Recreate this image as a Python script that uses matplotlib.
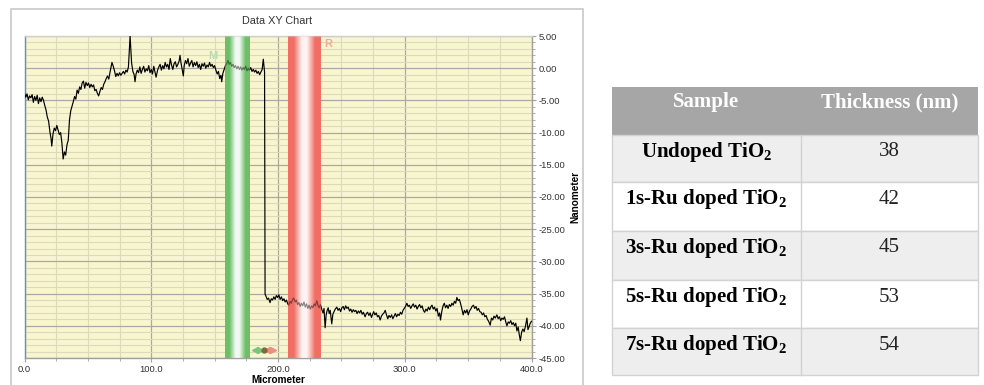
import numpy as np
import matplotlib.pyplot as plt
from matplotlib.patches import Rectangle
from matplotlib.ticker import MultipleLocator, FormatStrFormatter

plt.rcParams['font.family'] = ['Liberation Sans', 'DejaVu Sans']
plt.rcParams['axes.unicode_minus'] = False
plt.rcParams['mathtext.fontset'] = 'custom'
plt.rcParams['mathtext.rm'] = 'Liberation Serif'
plt.rcParams['mathtext.bf'] = 'Liberation Serif:bold'

# profilometer trace (micrometer, nanometer)
profile = [
    (0, -3.9), (1, -4.5), (2, -4.0), (3, -4.9), (4, -4.3), (5, -4.6), (6, -4.1), (7, -5.3), (8, -4.4), (9, -5.0),
    (10, -4.2), (11, -5.5), (12, -4.6), (13, -5.2), (14, -4.5), (15, -5.0), (16, -5.8), (17, -6.5), (18, -7.6), (19, -8.2),
    (20, -9.8), (21, -11.0), (21.5, -12.1), (22.5, -10.2), (23.5, -9.3), (24.5, -9.7), (25.5, -8.9), (26.5, -9.6), (27.5, -10.3), (28.5, -10.0),
    (29.5, -11.6), (30.5, -14.1), (31.5, -13.0), (32.5, -13.5), (33.5, -11.9), (34.5, -11.2), (35.5, -8.0), (36.5, -6.6), (37.5, -5.9), (38.5, -5.2),
    (39.5, -4.4), (40.5, -4.8), (41.5, -3.4), (42.5, -3.9), (43.5, -2.9), (44.5, -3.3), (45.5, -2.3), (46.5, -2.0), (47.5, -3.1), (48.5, -2.2),
    (49.5, -2.7), (50.5, -2.3), (51.5, -3.0), (52.5, -2.5), (53.5, -2.9), (54.5, -2.6), (55.5, -3.5), (56.5, -3.3), (57.5, -3.9), (58.5, -4.3),
    (59.5, -3.6), (60.5, -3.0), (61.5, -3.3), (62.5, -2.5), (63.5, -2.1), (64.5, -1.6), (65.5, -1.2), (66.5, -1.7), (67.5, -0.6), (68.5, 0.4),
    (69, 0.9), (70, 0.3), (71, -0.4), (72, -1.3), (73, -0.8), (74, -1.2), (75, -0.7), (76, -1.1), (77, -0.8), (78, -0.5),
    (79, -0.9), (80, -0.3), (81, -0.6), (82, 0.2), (83.3, 5.0), (84.5, 0.8), (85.5, -0.5), (86.5, -1.0), (87.2, -2.1), (88, -0.9),
    (89, -0.3), (90, -0.7), (91, 0.2), (92, -0.8), (93, -0.2), (94, 0.3), (95, -0.6), (96, -0.1), (97, -0.4), (98, 0.4),
    (99, -0.7), (100, -0.2), (101, -0.9), (102, 0.3), (103, -0.6), (103.8, -1.4), (105, -0.3), (106, 0.2), (107, 0.6), (108, -0.3),
    (109, 0.4), (110, -0.1), (111, 0.9), (112, 0.2), (113, 0.6), (114, -0.2), (115, 1.5), (116, 0.5), (117, -0.2), (118, 0.7),
    (119, 1.0), (120, 0.2), (121, 0.6), (122, 1.1), (122.7, 2.0), (123.5, 0.8), (124.5, -0.3), (125.3, -1.2), (126, 0.4), (127, 1.2),
    (128, 0.7), (129, 1.5), (130, 0.3), (131, 0.8), (132, 1.2), (133, 0.2), (134, 0.9), (135, 0.4), (136, 1.0), (137, 0.1),
    (138, 0.6), (139, -0.2), (140, 0.7), (141, 0.3), (142, 0.8), (143, 0.0), (144, 0.5), (145, 0.2), (146, 0.9), (147, 0.3),
    (148, 0.6), (149, 0.1), (150, 0.4), (151, -0.3), (152, -0.9), (153, -0.5), (154, -1.6), (155, -1.1), (155.6, -2.1), (156.5, -0.8),
    (157.5, -0.2), (158.5, 0.4), (159.5, 0.7), (160.5, 1.2), (161.5, 0.6), (162.5, 0.9), (163.5, 0.3), (164.5, 0.6), (165.5, 0.1), (166.5, 0.4),
    (167.5, -0.1), (168.5, 0.3), (169.5, -0.2), (170.5, 0.2), (171.5, -0.3), (172.5, 0.1), (173.5, -0.2), (174.5, 0.3), (175.5, -0.4), (176.5, 0.0),
    (177.5, -0.3), (178.5, 0.1), (179.5, -0.5), (180.5, -0.2), (181.5, -0.6), (182.5, -0.3), (183.5, -0.8), (184.5, -0.5), (185.5, -1.0), (186.5, -0.6),
    (187.5, -0.2), (188.4, 1.4), (189.4, -0.6), (189.8, -35.1), (190.5, -35.4), (191.5, -35.9), (192.5, -35.7), (193.7, -36.4), (194.7, -35.8), (195.7, -36.0),
    (196.7, -35.5), (197.7, -35.9), (198.7, -35.3), (199.7, -35.6), (200.7, -35.2), (201.7, -35.9), (202.7, -35.5), (203.7, -36.1), (204.7, -35.8), (205.7, -36.3),
    (206.7, -36.0), (207.7, -36.6), (208.5, -36.8), (209.5, -36.2), (210.5, -36.5), (211.5, -35.9), (212.5, -35.7), (213.5, -36.3), (214.5, -36.0), (215.5, -36.7),
    (216.5, -36.4), (217.5, -37.0), (218.5, -36.5), (219.5, -36.9), (220.5, -36.3), (221.5, -37.1), (222.5, -36.6), (223.5, -37.3), (224.5, -36.8), (225.5, -37.4),
    (226.5, -36.9), (227.5, -37.2), (228.5, -36.6), (229.5, -36.9), (230.6, -36.1), (231.5, -36.8), (232.5, -37.2), (233.5, -36.7), (234.6, -37.5), (235.5, -38.0),
    (236.3, -37.3), (237.2, -40.3), (238, -38.3), (238.8, -37.6), (239.6, -37.2), (240.4, -38.1), (241.2, -37.6), (242.4, -39.7), (243.3, -38.2), (244.2, -37.8),
    (245.2, -37.4), (246.4, -37.1), (247.4, -37.6), (248.4, -37.3), (249.4, -37.8), (250.4, -37.2), (251.4, -37.0), (252.4, -37.5), (253.4, -36.9), (254.4, -37.3),
    (255.4, -37.1), (256.4, -37.7), (257.4, -37.4), (258.4, -37.9), (259.4, -37.5), (260.4, -37.8), (261.4, -37.6), (262.4, -38.1), (263.4, -37.7), (264.4, -38.0),
    (265.4, -37.6), (266.4, -38.2), (267.4, -37.9), (268.7, -38.6), (269.7, -38.1), (270.7, -37.9), (271.7, -38.4), (272.7, -38.0), (273.7, -38.7), (274.7, -38.2),
    (275.5, -37.8), (276.5, -38.3), (277.5, -38.0), (278.5, -38.6), (279.5, -38.4), (280.6, -39.1), (281.6, -38.5), (282.6, -38.2), (283.6, -38.0), (284.6, -37.6),
    (285.6, -38.3), (286.6, -38.9), (287.6, -38.4), (288.6, -38.7), (289.6, -38.3), (290.6, -38.9), (291.6, -38.5), (292.6, -38.1), (293.6, -38.6), (294.6, -38.2),
    (295.6, -38.4), (296.6, -37.9), (297.6, -38.2), (298.6, -37.6), (299.6, -37.3), (300.6, -37.0), (301.7, -36.5), (302.7, -37.0), (303.7, -36.8), (304.7, -37.3),
    (305.7, -36.9), (306.7, -36.6), (307.7, -37.1), (308.7, -36.8), (309.7, -37.4), (310.7, -37.0), (311.7, -36.7), (312.7, -37.2), (313.7, -36.9), (314.7, -37.6),
    (315.7, -37.9), (316.7, -37.4), (317.7, -37.7), (318.7, -37.1), (319.7, -37.5), (320.7, -37.0), (321.5, -36.8), (322.5, -37.4), (323.5, -37.1), (324.5, -37.7),
    (325.5, -37.3), (326.5, -38.5), (327.5, -38.0), (328.2, -39.1), (329.2, -37.8), (330.2, -36.9), (331.2, -36.5), (332.2, -37.2), (333.2, -36.8), (334.2, -37.3),
    (335.2, -36.7), (336.2, -37.0), (337.2, -36.5), (338.2, -36.8), (339.2, -36.2), (340.2, -36.5), (341.1, -35.6), (342.1, -36.1), (343.1, -35.9), (344.1, -36.6),
    (345.1, -37.4), (346.1, -38.3), (347.1, -37.6), (348.1, -38.0), (349.1, -37.5), (350.1, -38.3), (351.1, -37.7), (352.1, -37.4), (353.1, -37.0), (354.2, -36.8),
    (355.2, -37.3), (356.2, -37.0), (357.2, -37.6), (358.2, -37.3), (359.2, -37.8), (360.2, -37.9), (361.2, -38.3), (362.2, -38.0), (363.2, -38.6), (364.2, -38.4),
    (365.2, -39.0), (366.2, -39.3), (367.4, -39.9), (368.4, -38.8), (369.4, -39.1), (370.4, -38.5), (371.4, -38.8), (372.7, -38.3), (373.7, -38.9), (374.7, -38.6),
    (375.7, -39.2), (376.7, -38.8), (377.7, -39.0), (378.7, -38.6), (379.7, -39.4), (380.6, -40.0), (381.6, -39.4), (382.6, -39.6), (383.6, -39.2), (384.6, -39.8),
    (385.6, -39.5), (386.6, -40.0), (387.6, -39.6), (388.5, -40.8), (389.5, -40.2), (390.3, -41.3), (391.2, -42.3), (392.2, -41.0), (393.2, -40.5), (394.2, -40.9),
    (395.2, -40.1), (396.4, -38.8), (397.2, -40.6), (398, -40.2), (399, -39.6), (400, -39.3),
]
profile_x = [p[0] for p in profile]
profile_y = [p[1] for p in profile]

# cursor bands (micrometer)
m_band = [158, 177]
r_band = [208, 234]

samples = ['Undoped TiO$_\\mathbf{2}$', '1s-Ru doped TiO$_\\mathbf{2}$', '3s-Ru doped TiO$_\\mathbf{2}$',
           '5s-Ru doped TiO$_\\mathbf{2}$', '7s-Ru doped TiO$_\\mathbf{2}$']
thickness = [38, 42, 45, 53, 54]
headers = ['Sample', 'Thickness (nm)']

W, H = 984, 385
fig = plt.figure(figsize=(W / 100, H / 100), dpi=100)

# chart panel frame
fig.patches.append(Rectangle((11 / W, -0.05), (583 - 11) / W, 1 - 9 / H + 0.05, transform=fig.transFigure,
                             fc='white', ec='#c8c8c8', lw=1.2, zorder=-5))

ax = fig.add_axes([24.5 / W, 1 - 358 / H, 507 / W, 322 / H])
ax.set_facecolor('#f8f6cf')


def band(x0, x1, rgb):
    # solid colour at the edges, fading to near white in the middle
    t = np.linspace(-1, 1, 80)
    w = np.clip((np.abs(t) - 0.15) / 0.5, 0, 1) * 0.9 + 0.08
    img = np.ones((1, 80, 4))
    for k in range(3):
        img[0, :, k] = 1 - w * (1 - rgb[k])
    ax.imshow(img, extent=[x0, x1, -45, 5], aspect='auto', zorder=1.5, interpolation='bilinear')
    img2 = img.copy()
    img2[0, :, 3] = 0.55
    ax.imshow(img2, extent=[x0, x1, -45, 5], aspect='auto', zorder=4, interpolation='bilinear')


band(m_band[0], m_band[1], (0.42, 0.74, 0.40))
band(r_band[0], r_band[1], (0.94, 0.42, 0.38))

ax.plot(profile_x, profile_y, color='black', lw=0.85, zorder=3)

ax.text(m_band[0] - 9, 1.9, 'M', color='#b8dcb2', fontsize=8, fontweight='bold', ha='center', va='center', zorder=5)
ax.text(r_band[1] + 5.5, 3.7, 'R', color='#f4a898', fontsize=8, fontweight='bold', ha='center', va='center', zorder=5)

# cursor handles at the bottom
cur_y = -43.8
ax.plot([182], [cur_y], marker='<', ms=5, color='#7cc47a', zorder=6, clip_on=False)
ax.plot([186], [cur_y], marker='>', ms=5, color='#7cc47a', zorder=6, clip_on=False)
ax.plot([191], [cur_y], marker='<', ms=5, color='#f08c80', zorder=6, clip_on=False)
ax.plot([196], [cur_y], marker='>', ms=5, color='#f08c80', zorder=6, clip_on=False)
ax.plot([189], [cur_y], marker='o', ms=3.5, color='#7a6a40', zorder=7, clip_on=False)

ax.set_xlim(0, 400)
ax.set_ylim(-45, 5)
ax.xaxis.set_major_locator(MultipleLocator(100))
ax.xaxis.set_minor_locator(MultipleLocator(25))
ax.yaxis.set_major_locator(MultipleLocator(5))
ax.yaxis.set_minor_locator(MultipleLocator(1))
ax.xaxis.set_major_formatter(FormatStrFormatter('%.1f'))
ax.yaxis.set_major_formatter(FormatStrFormatter('%.2f'))
ax.yaxis.tick_right()
ax.grid(which='major', color='#a9a9a2', lw=0.9, zorder=1)
ax.grid(which='minor', color='#dcdabc', lw=0.8, zorder=0.9)
ax.set_axisbelow(True)
ax.tick_params(which='both', direction='out', colors='#a0a0a0', labelcolor='#333333', labelsize=6.8)
ax.tick_params(which='major', length=3, pad=2)
ax.tick_params(which='minor', length=2)
for side, c in [('left', '#7383d6'), ('bottom', '#a0a0a0'), ('right', '#a0a0a0'), ('top', '#cfcfcf')]:
    ax.spines[side].set_color(c)
    ax.spines[side].set_linewidth(1.0)

fig.text(277 / W, 1 - 21 / H, 'Data XY Chart', fontsize=7.8, color='#333333', ha='center', va='center')
fig.text(278 / W, 1 - 380 / H, 'Micrometer', fontsize=7.2, fontweight='bold', ha='center', va='center')
fig.text(575 / W, 1 - 197 / H, 'Nanometer', fontsize=7.2, fontweight='bold', rotation=90, ha='center', va='center')

# thickness table
tab = fig.add_axes([0, 0, 1, 1])
tab.set_xlim(0, W)
tab.set_ylim(H, 0)
tab.axis('off')

t_left, t_mid, t_right = 612, 801, 978
head_top, head_bot = 87, 135
row_edges = [135, 182, 231, 280, 328, 375]
serif = 'Liberation Serif'

tab.add_patch(Rectangle((t_left, head_top), t_right - t_left, head_bot - head_top, fc='#a6a6a6', ec='none'))
tab.text((t_left + t_mid) / 2, 102, headers[0], family=serif, fontsize=15, fontweight='bold', color='white',
         ha='center', va='center')
tab.text((t_mid + t_right) / 2, 102, headers[1], family=serif, fontsize=15, fontweight='bold', color='white',
         ha='center', va='center')

for i, (name, th) in enumerate(zip(samples, thickness)):
    top, bot = row_edges[i], row_edges[i + 1]
    fc = '#eeeeee' if i % 2 == 0 else 'white'
    tab.add_patch(Rectangle((t_left, top), t_right - t_left, bot - top, fc=fc, ec='#d2d2d2', lw=1.0))
    tab.plot([t_mid, t_mid], [top, bot], color='#d2d2d2', lw=1.0)
    tab.text((t_left + t_mid) / 2, top + 17, name, family=serif, fontsize=15, fontweight='bold', color='black',
             ha='center', va='center')
    tab.text((t_mid + t_right) / 2, top + 17, str(th), family=serif, fontsize=15, color='#222222',
             ha='center', va='center')

fig.savefig('out.png', dpi=100)
